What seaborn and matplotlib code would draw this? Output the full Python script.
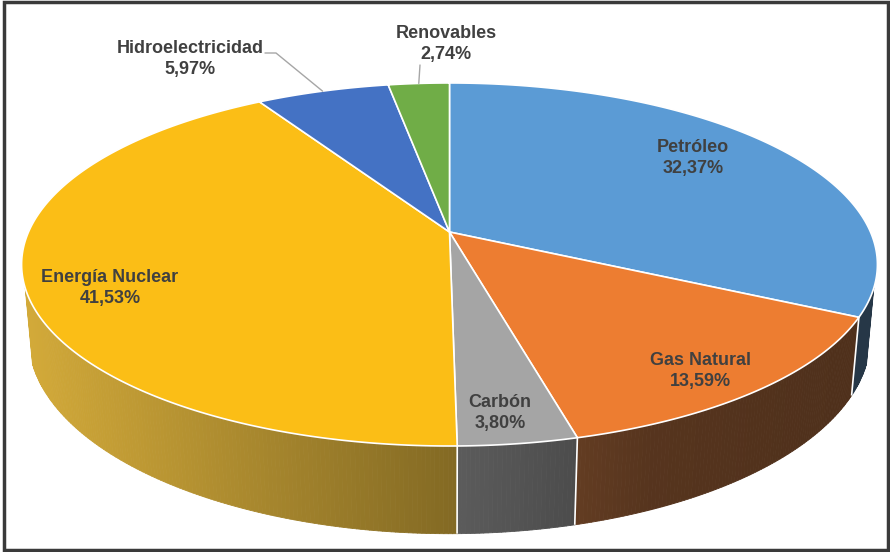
import numpy as np
import matplotlib
matplotlib.use("Agg")
import matplotlib.pyplot as plt
import matplotlib.colors as mcolors
import seaborn as sns
from matplotlib.collections import PolyCollection
from matplotlib.patches import Polygon, Rectangle

# ---------------- data ----------------
categories = ["Petróleo", "Gas Natural", "Carbón", "Energía Nuclear",
              "Hidroelectricidad", "Renovables"]
shares = [32.37, 13.59, 3.80, 41.53, 5.97, 2.74]
value_labels = ["32,37%", "13,59%", "3,80%", "41,53%", "5,97%", "2,74%"]
colors = sns.color_palette(["#5B9BD5", "#ED7D31", "#A5A5A5", "#FBBE16",
                            "#4472C4", "#70AD47"])

# label layout (pixel positions of label centres)
label_xy = [(693, 158), (700, 371), (500, 413), (110, 288), (190, 59), (446, 44)]
leader = {4: (265, 53, 276), 5: (420, 65, None)}

sns.set_theme(style="white")
plt.rcParams['font.family'] = ['Liberation Sans', 'DejaVu Sans']

W, H = 890, 552
fig = plt.figure(figsize=(8.9, 5.52), dpi=100)
ax = fig.add_axes([0, 0, 1, 1])
ax.set_xlim(0, W)
ax.set_ylim(H, 0)
ax.axis('off')

# perspective projection of the pie disc
CX, CY = 449.5, 232.0
A, B, K = 421.0, 175.7, 0.179
DEPTH = 72.0
VY = 4700.0
VIS0, VIS1 = 107.5, 252.5


def top_pt(theta):
    t = np.radians(theta)
    x, y = np.sin(t), np.cos(t)
    w = 1 + K * y
    return CX + A * x / w, CY - B * y / w


def bottom_pt(theta):
    u, v = top_pt(theta)
    d = DEPTH / (1 + K * np.cos(np.radians(theta)))
    f = 1 - d / (VY - v)
    return CX + (u - CX) * f, v + d


def shade(x):
    return np.interp(x, [20, 450, 650, 880], [0.90, 0.56, 0.40, 0.36])


def side_color(base, x):
    c = base * shade(x)
    lum = 0.3 * c[0] + 0.59 * c[1] + 0.11 * c[2]
    c = 0.75 * c + 0.25 * lum
    return tuple(np.clip(c, 0, 1))


total = sum(shares)
edges = np.concatenate([[0], np.cumsum(shares) / total * 360.0])

# ---- side walls ----
polys, fcs = [], []
for i in range(len(shares)):
    a, b = max(edges[i], VIS0), min(edges[i + 1], VIS1)
    if b <= a:
        continue
    th = np.linspace(a, b, max(int((b - a) / 0.5), 2) + 1)
    base = np.array(mcolors.to_rgb(colors[i]))
    for j in range(len(th) - 1):
        t0, t1 = th[j], th[j + 1]
        p = [top_pt(t0), top_pt(t1), bottom_pt(t1), bottom_pt(t0)]
        xm = np.mean([q[0] for q in p])
        polys.append(p)
        fcs.append(side_color(base, xm))
pc = PolyCollection(polys, facecolors=fcs, edgecolors=fcs, linewidths=0.6,
                    zorder=1)
ax.add_collection(pc)

for e in edges:
    if VIS0 < e < VIS1:
        p0, p1 = top_pt(e), bottom_pt(e)
        ax.plot([p0[0], p1[0]], [p0[1], p1[1]], color="white", lw=1.2,
                zorder=2, solid_capstyle='butt')

# ---- top faces ----
for i in range(len(shares)):
    th = np.linspace(edges[i], edges[i + 1], 200)
    pts = [(CX, CY)] + [top_pt(t) for t in th]
    ax.add_patch(Polygon(pts, closed=True, facecolor=colors[i],
                         edgecolor="white", lw=1.2, joinstyle='round',
                         zorder=3))

# ---- labels ----
for i, (cat, val) in enumerate(zip(categories, value_labels)):
    x, y = label_xy[i]
    ax.text(x, y, f"{cat}\n{val}", ha="center", va="center", fontsize=13,
            fontweight="bold", color="#404040", linespacing=1.25, zorder=5)

for i, (lx, ly, lx2) in leader.items():
    mid = (edges[i] + edges[i + 1]) / 2
    ex, ey = top_pt(mid)
    xs, ys = [lx], [ly]
    if lx2 is not None:
        xs.append(lx2)
        ys.append(ly)
    xs.append(ex)
    ys.append(ey)
    ax.plot(xs, ys, color="#A6A6A6", lw=1.0, zorder=4)

# ---- frame ----
ax.add_patch(Rectangle((4, 2), 884, 548, fill=False, edgecolor="#3a3a3a",
                       lw=2.5, zorder=6, clip_on=False))

fig.savefig("out.png", dpi=100)
